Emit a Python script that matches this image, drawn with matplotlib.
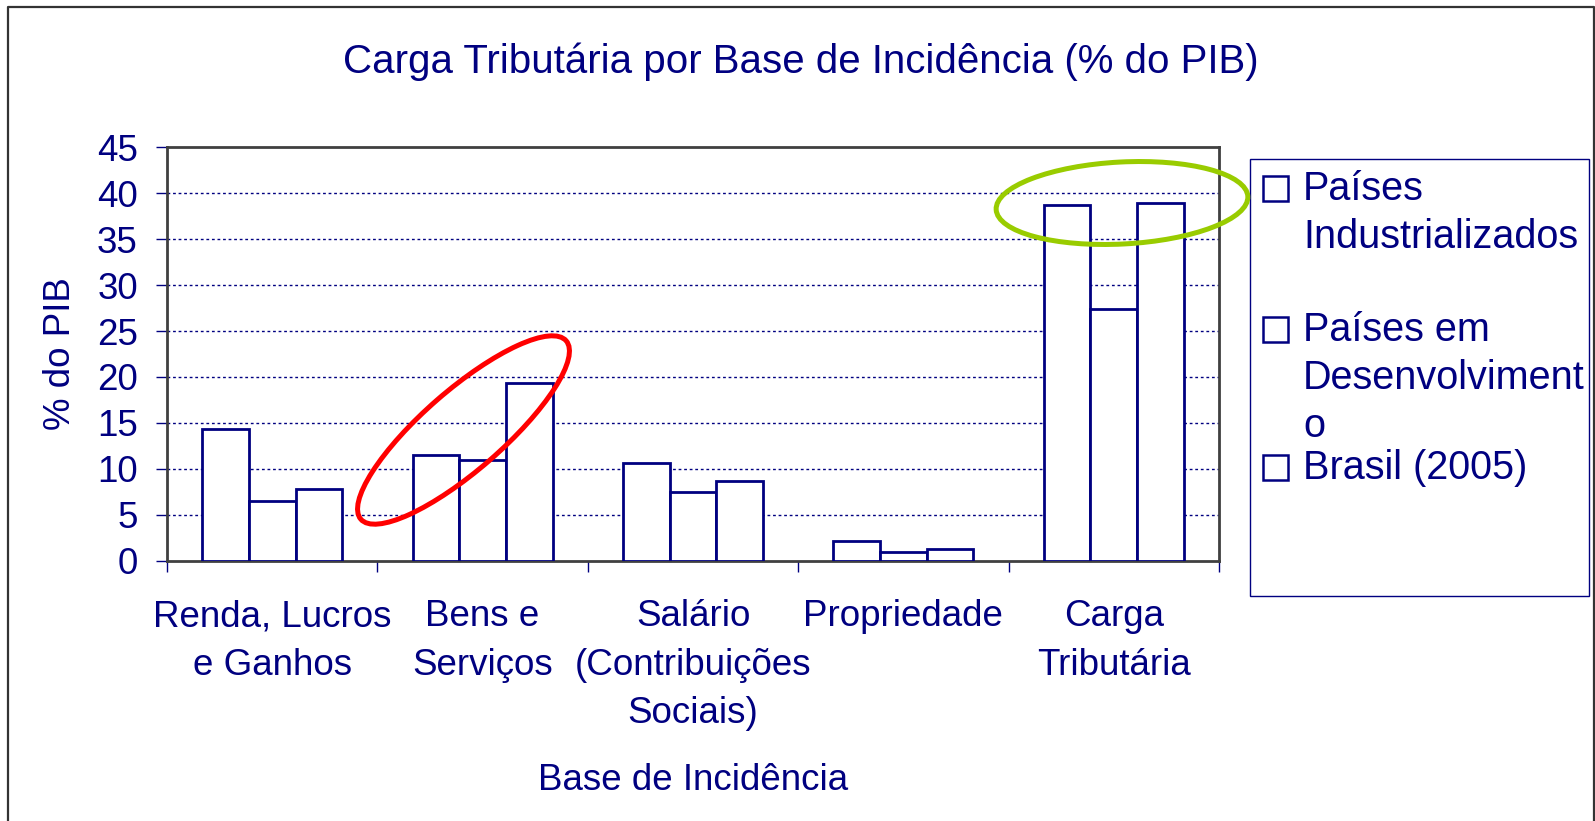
import matplotlib.pyplot as plt
import numpy as np
from matplotlib.patches import Ellipse, Rectangle

plt.rcParams['font.family'] = ['Liberation Sans', 'DejaVu Sans']

# dados
categorias = ["Renda, Lucros\ne Ganhos", "Bens e\nServiços", "Salário\n(Contribuições\nSociais)",
              "Propriedade", "Carga\nTributária"]
series = ["Países\nIndustrializados", "Países em\nDesenvolviment\no", "Brasil (2005)"]
industrializados = [14.3, 11.5, 10.6, 2.1, 38.7]
desenvolvimento = [6.5, 10.9, 7.5, 0.9, 27.4]
brasil = [7.8, 19.3, 8.7, 1.2, 39.0]
yticks = [0, 5, 10, 15, 20, 25, 30, 35, 40, 45]

navy = '#000080'
W, H = 1595, 821
fig = plt.figure(figsize=(W / 100, H / 100), dpi=100)
ax = fig.add_axes([167 / W, 1 - 560.5 / H, (1219 - 167) / W, (560.5 - 147.5) / H])

x = np.arange(len(categorias))
bw = 0.222
for i, vals in enumerate([industrializados, desenvolvimento, brasil]):
    ax.bar(x + (i - 1) * bw, vals, bw, color='white', edgecolor=navy, linewidth=2, zorder=3)

ax.set_xlim(-0.5, len(categorias) - 0.5)
ax.set_ylim(0, 45)
ax.set_yticks(yticks)
ax.tick_params(axis='y', labelsize=26.5, colors=navy, length=8, width=1, pad=13)
ax.set_xticks(np.arange(len(categorias) + 1) - 0.5)
ax.set_xticklabels([])
ax.tick_params(axis='x', which='major', colors=navy, length=8, width=1)
ax.set_xticks(x, categorias, minor=True)
ax.tick_params(axis='x', which='minor', length=0, pad=28, labelsize=26.5, labelcolor=navy)
for t in ax.get_xticklabels(minor=True):
    t.set_linespacing(1.5)

# grade pontilhada
for v in yticks[1:-1]:
    ax.axhline(v, color=navy, lw=1, ls=(0, (2, 2)), zorder=1)

for s in ax.spines.values():
    s.set_color('#404040')
    s.set_linewidth(2)

ax.set_ylabel('% do PIB', fontsize=26.5, color=navy)
ax.yaxis.set_label_coords(-0.0846, 0.5)
ax.set_xlabel('Base de Incidência', fontsize=26.5, color=navy)
ax.xaxis.set_label_coords(0.5, -0.49)

fig.text(801 / W, 1 - 73 / H, 'Carga Tributária por Base de Incidência (% do PIB)',
         ha='center', va='baseline', fontsize=29, color=navy)

# camada por cima em pixels
ov = fig.add_axes([0, 0, 1, 1], zorder=5)
ov.set_xlim(0, W)
ov.set_ylim(H, 0)
ov.axis('off')
ov.patch.set_alpha(0)

# moldura externa
ov.plot([8, 8, 1594, 1594], [H + 5, 7, 7, H + 5], color='#333333', lw=1.6)

# legenda feita a mao
ov.add_patch(Rectangle((1250, 159), 339, 437, fill=False, edgecolor=navy, lw=1))
base_y = [200, 341, 479]
for lab, by in zip(series, base_y):
    ov.add_patch(Rectangle((1263, by - 24), 25, 25, facecolor='white', edgecolor=navy, lw=1.8))
    for k, linha in enumerate(lab.split('\n')):
        ov.text(1303, by + k * 48, linha, fontsize=28.5, color=navy, va='baseline', ha='left')

# elipses de destaque
ov.add_patch(Ellipse((463.5, 430), 272, 80, angle=-41, fill=False, edgecolor='#FF0000', lw=3.6))
ov.add_patch(Ellipse((1122, 203), 252, 82, angle=-3, fill=False, edgecolor='#99CC00', lw=3.6))

fig.savefig('out.png', dpi=100)
